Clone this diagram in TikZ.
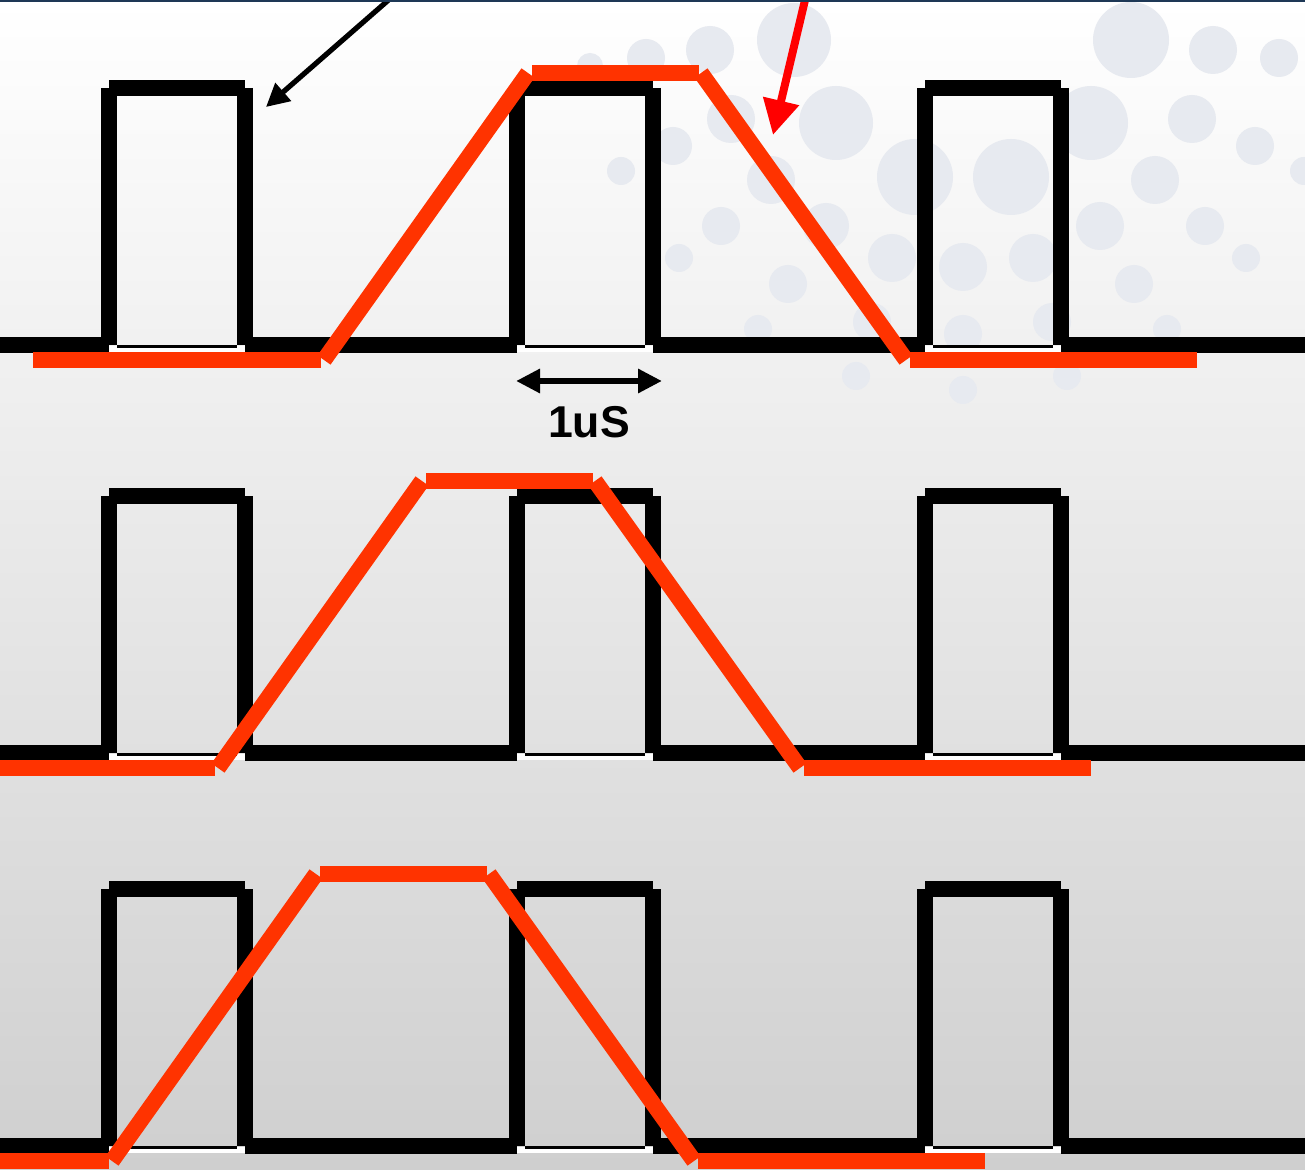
\documentclass[tikz,border=0pt]{standalone}
\usepackage{fontspec}
\setmainfont{Liberation Sans}
\usetikzlibrary{arrows.meta}
\definecolor{wave}{RGB}{255,51,0}
\definecolor{bubble}{RGB}{231,234,240}
\definecolor{topbar}{RGB}{30,56,86}
\definecolor{bgbottom}{RGB}{207,207,207}
\begin{document}
\begin{tikzpicture}[x=0.5pt,y=-0.5pt,
  blk/.style={line width=8pt, line cap=butt, black},
  redw/.style={line width=8pt, line cap=butt, wave},
  thinstrip/.style={line width=1.2pt, line cap=butt, black},
  whitestrip/.style={line width=3pt, line cap=butt, white},
  callout/.style={line width=2.6pt, black, -{Triangle[length=11.5pt,width=11.5pt]}},
  redcallout/.style={line width=4pt, red, -{Triangle[length=17.5pt,width=17.5pt]}},
  span/.style={line width=3pt, black, {Triangle[length=12pt,width=11.5pt]}-{Triangle[length=12pt,width=11.5pt]}},
  lbltext/.style={font=\bfseries\fontsize{22.3}{26}\selectfont, inner sep=0pt}
  ]
\useasboundingbox (0,0) rectangle (1305,1170);
\clip (0,0) rectangle (1305,1170);
% background
\shade[top color=white, bottom color=bgbottom] (0,0) rectangle (1305,1170);
% bubbles
\foreach \x/\y/\r in {794/40/37,1131/40/38,710/50/24,1213/50/24,646/58/19,1279/58/19,590/66/13,
  836/123/37,1091/123/37,731/119/24,1192/119/24,673/146/19,1255/146/19,621/171/14,1304/171/14,
  915/177/38,1011/177/38,771/180/24,1155/180/24,
  826/226/23,1100/226/24,721/226/19,1205/226/19,679/258/14,1246/258/14,
  892/258/24,1033/258/24,963/267/24,
  788/284/19,1134/284/19,758/329/14,1167/329/14,872/322/19,1052/322/19,963/334/19,
  856/376/14,1067/376/14,963/390/14}
  \fill[bubble] (\x,\y) circle[radius=\r];
% black pulse trains
\foreach \B in {345,753,1146} {
  \pgfmathsetmacro\T{\B-257}
  \foreach \L in {109,517,925} {
    \pgfmathsetmacro\R{\L+136}
    \draw[whitestrip] (\L,\B+4) -- (\R,\B+4);
    \draw[thinstrip] (\L+8,\B+1.5) -- (\R-8,\B+1.5);
    \draw[blk] (\L,\T) -- (\R,\T);
    \draw[blk] (\L,\T) -- (\L,\B);
    \draw[blk] (\R,\T) -- (\R,\B);
  }
  \draw[blk] (0,\B) -- (109,\B);
  \draw[blk] (245,\B) -- (517,\B);
  \draw[blk] (653,\B) -- (925,\B);
  \draw[blk] (1061,\B) -- (1305,\B);
}
% red trapezoids
\foreach \B/\s/\a in {360/0/33, 768/-106/-10, 1161/-212/-10} {
  \pgfmathsetmacro\T{\B-287}
  \draw[redw] (\a,\B) -- ({321+\s},\B);
  \draw[redw] ({324+\s},\B) -- ({528+\s},\T);
  \draw[redw] ({532+\s},\T) -- ({699+\s},\T);
  \draw[redw] ({701+\s},\T) -- ({906+\s},\B);
  \draw[redw] ({910+\s},\B) -- ({1197+\s},\B);
}
% callout arrows
\coordinate (bs) at (400,-10);
\coordinate (bt) at (266,107);
\draw[callout] (bs) -- (bt);
\coordinate (rs) at (807.4,-10);
\coordinate (rt) at (773,135);
\draw[redcallout] (rs) -- (rt);
% 1uS span
\coordinate (ua) at (516,381);
\coordinate (ub) at (662,381);
\draw[span] (ua) -- (ub);
\node[lbltext] (lbl) at (589,422) {1uS};
% top bar
\fill[topbar] (0,0) rectangle (1305,2.5);
\end{tikzpicture}
\end{document}
